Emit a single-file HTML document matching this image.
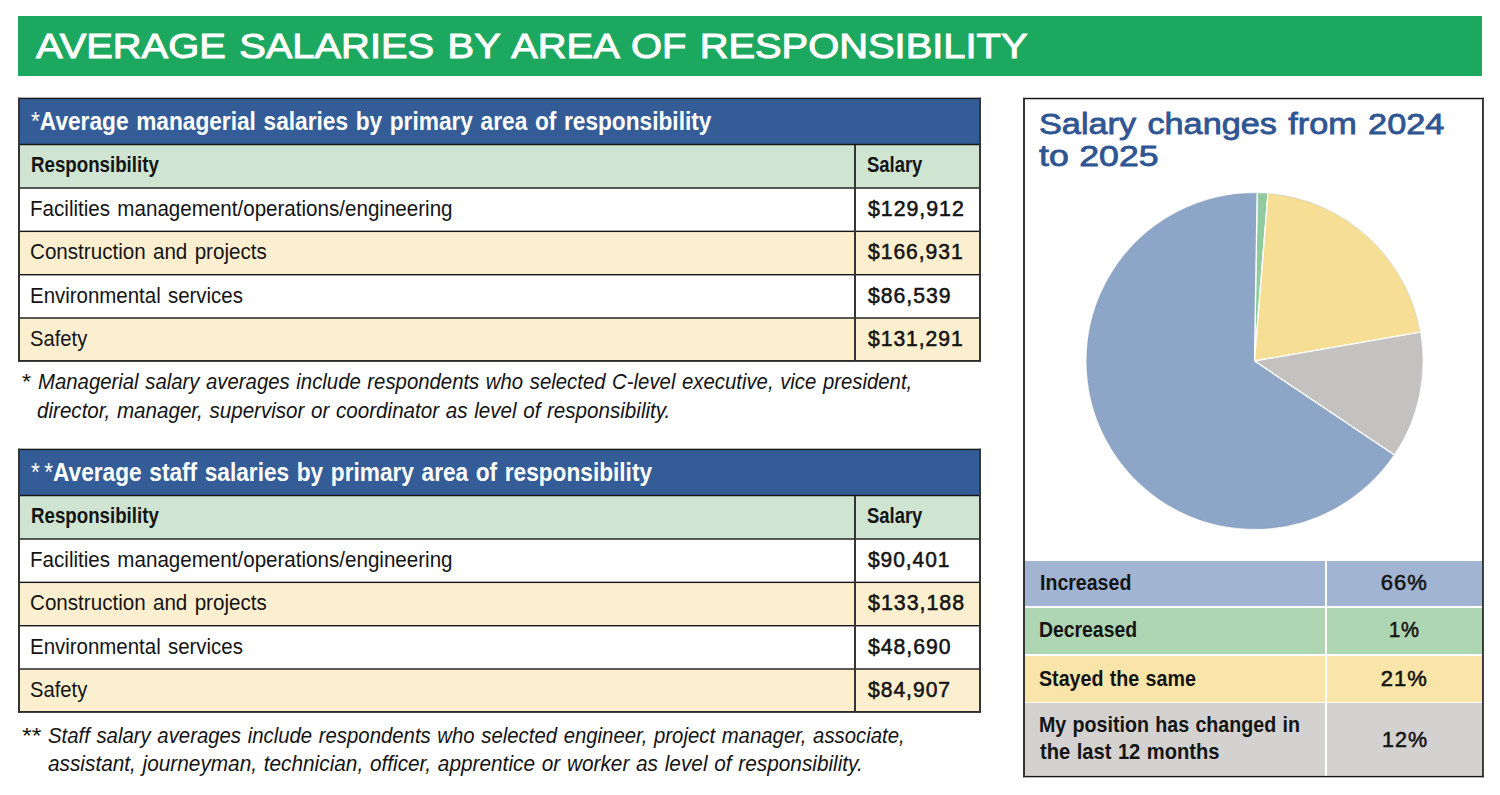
<!DOCTYPE html>
<html><head><meta charset="utf-8"><style>
html,body{margin:0;padding:0;background:#fff;}
body{width:1500px;height:795px;position:relative;overflow:hidden;font-family:"Liberation Sans",sans-serif;}
.r{position:absolute;}
.t{position:absolute;white-space:nowrap;transform-origin:0 0;font-family:"Liberation Sans",sans-serif;}
</style></head><body>
<div class="r" style="left:18px;top:16px;width:1464px;height:60px;background:#1da85f"></div><div class="r" style="left:18px;top:98px;width:963px;height:47px;background:#345d98"></div><div class="r" style="left:18px;top:145px;width:963px;height:43px;background:#cfe4d1"></div><div class="r" style="left:18px;top:188px;width:963px;height:43px;background:#ffffff"></div><div class="r" style="left:18px;top:231px;width:963px;height:44px;background:#fcefcf"></div><div class="r" style="left:18px;top:275px;width:963px;height:43px;background:#ffffff"></div><div class="r" style="left:18px;top:318px;width:963px;height:43px;background:#fcefcf"></div><div class="r" style="left:18px;top:449px;width:963px;height:47px;background:#345d98"></div><div class="r" style="left:18px;top:496px;width:963px;height:43px;background:#cfe4d1"></div><div class="r" style="left:18px;top:539px;width:963px;height:43px;background:#ffffff"></div><div class="r" style="left:18px;top:582px;width:963px;height:44px;background:#fcefcf"></div><div class="r" style="left:18px;top:626px;width:963px;height:43px;background:#ffffff"></div><div class="r" style="left:18px;top:669px;width:963px;height:43px;background:#fcefcf"></div><div class="r" style="left:1024px;top:98px;width:459px;height:678px;background:#ffffff"></div><div class="r" style="left:1025px;top:561px;width:457px;height:45px;background:#a1b5d3"></div><div class="r" style="left:1025px;top:608px;width:457px;height:46px;background:#afd6b3"></div><div class="r" style="left:1025px;top:656px;width:457px;height:46px;background:#f9e5a9"></div><div class="r" style="left:1025px;top:703px;width:457px;height:73px;background:#d3d2d1"></div><div class="r" style="left:1325px;top:561px;width:2px;height:215px;background:#ffffff"></div>
<svg class="r" style="left:0;top:0" width="1500" height="795" viewBox="0 0 1500 795"><path d="M1254.5,361 L1257.15,192.52 A168.5,168.5 0 0 1 1268.01,193.04 Z" fill="#8fcb9d" stroke="#fff" stroke-width="1.3" stroke-linejoin="round"/><path d="M1254.5,361 L1268.01,193.04 A168.5,168.5 0 0 1 1420.49,332.03 Z" fill="#f6df95" stroke="#fff" stroke-width="1.3" stroke-linejoin="round"/><path d="M1254.5,361 L1420.49,332.03 A168.5,168.5 0 0 1 1394.36,454.98 Z" fill="#c3c2c1" stroke="#fff" stroke-width="1.3" stroke-linejoin="round"/><path d="M1254.5,361 L1394.36,454.98 A168.5,168.5 0 1 1 1257.15,192.52 Z" fill="#8da6c7" stroke="#fff" stroke-width="1.3" stroke-linejoin="round"/><circle cx="1254.5" cy="361" r="168.1" fill="none" stroke="rgba(40,60,100,0.18)" stroke-width="0.8"/><rect x="18" y="97.7" width="963.00" height="1.40" fill="#161616"/><rect x="18" y="143.75" width="963.00" height="1.50" fill="#161616"/><rect x="18" y="187.3" width="963.00" height="1.40" fill="#161616"/><rect x="18" y="230.65" width="963.00" height="1.40" fill="#161616"/><rect x="18" y="274.0" width="963.00" height="1.40" fill="#161616"/><rect x="18" y="317.3" width="963.00" height="1.40" fill="#161616"/><rect x="18" y="360.1" width="963.00" height="1.70" fill="#161616"/><rect x="18" y="97.7" width="2.00" height="264.10" fill="#353535"/><rect x="979" y="97.7" width="2.00" height="264.10" fill="#353535"/><rect x="854" y="145" width="2.00" height="216.00" fill="#353535"/><rect x="18" y="448.7" width="963.00" height="1.40" fill="#161616"/><rect x="18" y="494.75" width="963.00" height="1.50" fill="#161616"/><rect x="18" y="538.3" width="963.00" height="1.40" fill="#161616"/><rect x="18" y="581.65" width="963.00" height="1.40" fill="#161616"/><rect x="18" y="625.0" width="963.00" height="1.40" fill="#161616"/><rect x="18" y="668.3" width="963.00" height="1.40" fill="#161616"/><rect x="18" y="711.1" width="963.00" height="1.70" fill="#161616"/><rect x="18" y="448.7" width="2.00" height="264.10" fill="#353535"/><rect x="979" y="448.7" width="2.00" height="264.10" fill="#353535"/><rect x="854" y="496" width="2.00" height="216.00" fill="#353535"/><rect x="1023" y="97.8" width="460.90" height="1.45" fill="#161616"/><rect x="1023" y="775.9" width="460.90" height="1.40" fill="#161616"/><rect x="1023" y="97.8" width="2.00" height="679.50" fill="#353535"/><rect x="1482" y="97.8" width="1.90" height="679.50" fill="#353535"/></svg>
<div class="t" style="left:35.66px;top:29.25px;font-size:34.9px;line-height:34.9px;color:#ffffff;-webkit-text-stroke:1px #fff;word-spacing:2px;transform:scaleX(1.1427)">AVERAGE SALARIES BY AREA OF RESPONSIBILITY</div>
<div class="t" style="left:31.11px;top:108.61px;font-size:25.5px;line-height:25.5px;font-weight:bold;color:#ffffff;word-spacing:1.5px;transform:scaleX(0.8894)"><span style="font-weight:normal">*</span>Average managerial salaries by primary area of responsibility</div>
<div class="t" style="left:31.13px;top:155.10px;font-size:21.5px;line-height:21.5px;font-weight:bold;color:#141414;word-spacing:0px;transform:scaleX(0.8699)">Responsibility</div>
<div class="t" style="left:867.14px;top:155.10px;font-size:21.5px;line-height:21.5px;font-weight:bold;color:#141414;word-spacing:0px;transform:scaleX(0.8571)">Salary</div>
<div class="t" style="left:30.13px;top:198.07px;font-size:22px;line-height:22px;color:#141414;word-spacing:1.7px;transform:scaleX(0.9354)">Facilities management/operations/engineering</div>
<div class="t" style="left:868.00px;top:198.07px;font-size:22px;line-height:22px;color:#141414;-webkit-text-stroke:0.55px #141414;letter-spacing:1px;word-spacing:0px;transform:scaleX(0.9694)">$129,912</div>
<div class="t" style="left:30.06px;top:241.37px;font-size:22px;line-height:22px;color:#141414;word-spacing:1.7px;transform:scaleX(0.9363)">Construction and projects</div>
<div class="t" style="left:868.00px;top:241.37px;font-size:22px;line-height:22px;color:#141414;-webkit-text-stroke:0.55px #141414;letter-spacing:1px;word-spacing:0px;transform:scaleX(0.9592)">$166,931</div>
<div class="t" style="left:30.14px;top:284.67px;font-size:22px;line-height:22px;color:#141414;word-spacing:1.7px;transform:scaleX(0.9292)">Environmental services</div>
<div class="t" style="left:868.00px;top:284.67px;font-size:22px;line-height:22px;color:#141414;-webkit-text-stroke:0.55px #141414;letter-spacing:1px;word-spacing:0px;transform:scaleX(0.9647)">$86,539</div>
<div class="t" style="left:30.08px;top:327.97px;font-size:22px;line-height:22px;color:#141414;word-spacing:1.7px;transform:scaleX(0.9180)">Safety</div>
<div class="t" style="left:868.00px;top:327.97px;font-size:22px;line-height:22px;color:#141414;-webkit-text-stroke:0.55px #141414;letter-spacing:1px;word-spacing:0px;transform:scaleX(0.9592)">$131,291</div>
<div class="t" style="left:31.11px;top:459.61px;font-size:25.5px;line-height:25.5px;font-weight:bold;color:#ffffff;word-spacing:1.5px;transform:scaleX(0.8883)"><span style="font-weight:normal;letter-spacing:5px">*</span><span style="font-weight:normal">*</span>Average staff salaries by primary area of responsibility</div>
<div class="t" style="left:31.13px;top:506.10px;font-size:21.5px;line-height:21.5px;font-weight:bold;color:#141414;word-spacing:0px;transform:scaleX(0.8699)">Responsibility</div>
<div class="t" style="left:867.14px;top:506.10px;font-size:21.5px;line-height:21.5px;font-weight:bold;color:#141414;word-spacing:0px;transform:scaleX(0.8571)">Salary</div>
<div class="t" style="left:30.13px;top:549.07px;font-size:22px;line-height:22px;color:#141414;word-spacing:1.7px;transform:scaleX(0.9354)">Facilities management/operations/engineering</div>
<div class="t" style="left:868.00px;top:549.07px;font-size:22px;line-height:22px;color:#141414;-webkit-text-stroke:0.55px #141414;letter-spacing:1px;word-spacing:0px;transform:scaleX(0.9529)">$90,401</div>
<div class="t" style="left:30.06px;top:592.37px;font-size:22px;line-height:22px;color:#141414;word-spacing:1.7px;transform:scaleX(0.9363)">Construction and projects</div>
<div class="t" style="left:868.00px;top:592.37px;font-size:22px;line-height:22px;color:#141414;-webkit-text-stroke:0.55px #141414;letter-spacing:1px;word-spacing:0px;transform:scaleX(0.9735)">$133,188</div>
<div class="t" style="left:30.14px;top:635.67px;font-size:22px;line-height:22px;color:#141414;word-spacing:1.7px;transform:scaleX(0.9292)">Environmental services</div>
<div class="t" style="left:868.00px;top:635.67px;font-size:22px;line-height:22px;color:#141414;-webkit-text-stroke:0.55px #141414;letter-spacing:1px;word-spacing:0px;transform:scaleX(0.9647)">$48,690</div>
<div class="t" style="left:30.08px;top:678.97px;font-size:22px;line-height:22px;color:#141414;word-spacing:1.7px;transform:scaleX(0.9180)">Safety</div>
<div class="t" style="left:868.00px;top:678.97px;font-size:22px;line-height:22px;color:#141414;-webkit-text-stroke:0.55px #141414;letter-spacing:1px;word-spacing:0px;transform:scaleX(0.9600)">$84,907</div>
<div class="t" style="left:21.19px;top:370.77px;font-size:22px;line-height:22px;font-style:italic;color:#141414;word-spacing:0px;transform:scaleX(1.0571)">*</div>
<div class="t" style="left:38.08px;top:370.77px;font-size:22px;line-height:22px;font-style:italic;color:#141414;word-spacing:1.0px;transform:scaleX(0.9246)">Managerial salary averages include respondents who selected C-level executive, vice president,</div>
<div class="t" style="left:37.06px;top:399.57px;font-size:22px;line-height:22px;font-style:italic;color:#141414;word-spacing:1.0px;transform:scaleX(0.9361)">director, manager, supervisor or coordinator as level of responsibility.</div>
<div class="t" style="left:20.75px;top:724.87px;font-size:22px;line-height:22px;font-style:italic;color:#141414;word-spacing:0px;transform:scaleX(1.1250)">**</div>
<div class="t" style="left:48.07px;top:724.87px;font-size:22px;line-height:22px;font-style:italic;color:#141414;word-spacing:1.0px;transform:scaleX(0.9252)">Staff salary averages include respondents who selected engineer, project manager, associate,</div>
<div class="t" style="left:48.00px;top:753.47px;font-size:22px;line-height:22px;font-style:italic;color:#141414;word-spacing:1.0px;transform:scaleX(0.9453)">assistant, journeyman, technician, officer, apprentice or worker as level of responsibility.</div>
<div class="t" style="left:1038.84px;top:108.82px;font-size:29.5px;line-height:29.5px;color:#2f5592;-webkit-text-stroke:0.8px #2f5592;word-spacing:1.5px;transform:scaleX(1.1618)">Salary changes from 2024</div>
<div class="t" style="left:1039.20px;top:140.82px;font-size:29.5px;line-height:29.5px;color:#2f5592;-webkit-text-stroke:0.8px #2f5592;word-spacing:0.5px;transform:scaleX(1.2082)">to 2025</div>
<div class="t" style="left:1039.51px;top:572.17px;font-size:22px;line-height:22px;font-weight:bold;color:#141414;word-spacing:0px;transform:scaleX(0.8890)">Increased</div>
<div class="t" style="left:1038.72px;top:619.47px;font-size:22px;line-height:22px;font-weight:bold;color:#141414;word-spacing:0px;transform:scaleX(0.8807)">Decreased</div>
<div class="t" style="left:1038.71px;top:667.67px;font-size:22px;line-height:22px;font-weight:bold;color:#141414;word-spacing:1.0px;transform:scaleX(0.8931)">Stayed the same</div>
<div class="t" style="left:1038.71px;top:714.27px;font-size:22px;line-height:22px;font-weight:bold;color:#141414;word-spacing:1.0px;transform:scaleX(0.8921)">My position has changed in</div>
<div class="t" style="left:1039.60px;top:740.67px;font-size:22px;line-height:22px;font-weight:bold;color:#141414;word-spacing:1.0px;transform:scaleX(0.9153)">the last 12 months</div>
<div class="t" style="left:1380.70px;top:572.17px;font-size:22px;line-height:22px;color:#141414;-webkit-text-stroke:0.55px #141414;letter-spacing:1px;word-spacing:0px;transform:scaleX(1.0000)">66%</div>
<div class="t" style="left:1389.08px;top:619.47px;font-size:22px;line-height:22px;color:#141414;-webkit-text-stroke:0.55px #141414;letter-spacing:1px;word-spacing:0px;transform:scaleX(0.9156)">1%</div>
<div class="t" style="left:1380.70px;top:667.67px;font-size:22px;line-height:22px;color:#141414;-webkit-text-stroke:0.55px #141414;letter-spacing:1px;word-spacing:0px;transform:scaleX(1.0000)">21%</div>
<div class="t" style="left:1381.72px;top:728.67px;font-size:22px;line-height:22px;color:#141414;-webkit-text-stroke:0.55px #141414;letter-spacing:1px;word-spacing:0px;transform:scaleX(0.9778)">12%</div>
</body></html>
